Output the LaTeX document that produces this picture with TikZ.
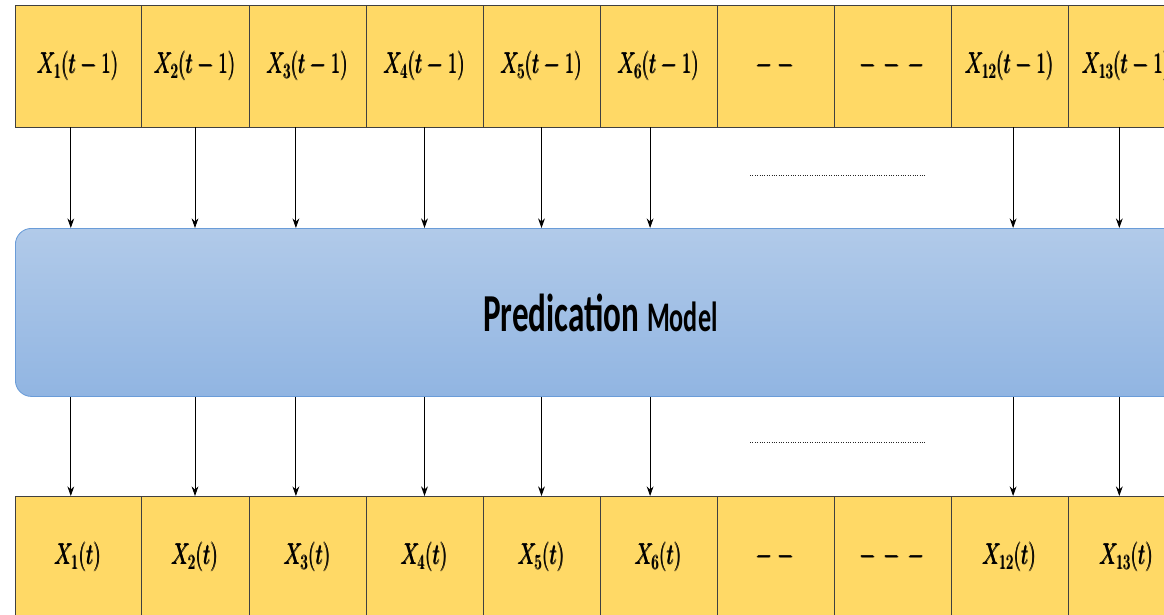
\documentclass[tikz,border=0pt]{standalone}
\usepackage{amsmath}
\usepackage{fontspec}
\usepackage{graphicx}
\usetikzlibrary{positioning,arrows.meta}
\newfontfamily\modelfont{Carlito}
\definecolor{cellgold}{HTML}{FFD966}
\definecolor{modeltop}{HTML}{B1CAE9}
\definecolor{modelbot}{HTML}{91B5E2}
\definecolor{modeledge}{HTML}{6A9CD8}
\newcommand{\sqz}[1]{\scalebox{0.62}[1]{#1}}
\newcommand{\cellmath}[1]{\scalebox{0.71}[1]{$\pmb{#1}$}}
\begin{document}
\begin{tikzpicture}[node distance=0pt]
    \tikzstyle{cell} = [rectangle, minimum width=2.925cm, minimum height=3.05cm,
        inner sep=0pt, outer sep=0pt, text centered, draw=black!75, fill=cellgold,
        font=\fontsize{20.74}{24}\selectfont]
    \tikzstyle{model} = [rectangle, rounded corners=0.4cm, minimum width=29.25cm,
        minimum height=4.2cm, draw=modeledge, semithick,
        top color=modeltop, bottom color=modelbot]
    \tikzstyle{arrow} = [semithick,->,>={Stealth[length=2.4mm,width=1.7mm]}]
    \tikzstyle{gap} = [densely dotted, black!85, line width=0.7pt]

    \clip (0,0) rectangle (29.1,-15.35);

    % Entrees a l'instant t-1
    \node (a1) [cell, minimum width=3.15cm, anchor=north west] at (0.375,-0.125) {\cellmath{X_1(t-1)}};
    \node (a2) [cell, minimum width=2.7cm, right=of a1] {\cellmath{X_2(t-1)}};
    \node (a3) [cell, right=of a2] {\cellmath{X_3(t-1)}};
    \node (a4) [cell, right=of a3] {\cellmath{X_4(t-1)}};
    \node (a5) [cell, right=of a4] {\cellmath{X_5(t-1)}};
    \node (a6) [cell, right=of a5] {\cellmath{X_6(t-1)}};
    \node (a7) [cell, right=of a6] {\cellmath{-\;-}};
    \node (a8) [cell, right=of a7] {\cellmath{-\,-\,-}};
    \node (a9) [cell, right=of a8] {\cellmath{X_{12}(t-1)}};
    \node (a10) [cell, right=of a9] {\cellmath{X_{13}(t-1)}};

    \node (m) [model, anchor=north west] at (0.375,-5.7)
        {\modelfont\bfseries\sqz{\fontsize{38}{40}\selectfont Predication
        \fontsize{30}{32}\selectfont Model}};

    % Sorties a l'instant t
    \node (b1) [cell, minimum width=3.15cm, anchor=north west] at (0.375,-12.4) {\cellmath{X_1(t)}};
    \node (b2) [cell, minimum width=2.7cm, right=of b1] {\cellmath{X_2(t)}};
    \node (b3) [cell, right=of b2] {\cellmath{X_3(t)}};
    \node (b4) [cell, right=of b3] {\cellmath{X_4(t)}};
    \node (b5) [cell, right=of b4] {\cellmath{X_5(t)}};
    \node (b6) [cell, right=of b5] {\cellmath{X_6(t)}};
    \node (b7) [cell, right=of b6] {\cellmath{-\;-}};
    \node (b8) [cell, right=of b7] {\cellmath{-\,-\,-}};
    \node (b9) [cell, right=of b8] {\cellmath{X_{12}(t)}};
    \node (b10) [cell, right=of b9] {\cellmath{X_{13}(t)}};

    \draw [arrow] ([xshift=-0.18cm]a1.south) -- ([xshift=-0.18cm]a1.south |- m.north);
    \draw [arrow] (a2) -- (a2 |- m.north);
    \draw [arrow] ([xshift=-0.29cm]a3.south) -- ([xshift=-0.29cm]a3.south |- m.north);
    \draw [arrow] (a4) -- (a4 |- m.north);
    \draw [arrow] (a5) -- (a5 |- m.north);
    \draw [arrow] ([xshift=-0.21cm]a6.south) -- ([xshift=-0.21cm]a6.south |- m.north);
    \draw [arrow] ([xshift=0.09cm]a9.south) -- ([xshift=0.09cm]a9.south |- m.north);
    \draw [arrow] ([xshift=-0.18cm]a10.south) -- ([xshift=-0.18cm]a10.south |- m.north);

    \draw [arrow] ([xshift=-0.18cm]m.south -| b1) -- ([xshift=-0.18cm]b1.north);
    \draw [arrow] (m.south -| b2) -- (b2);
    \draw [arrow] ([xshift=-0.29cm]m.south -| b3) -- ([xshift=-0.29cm]b3.north);
    \draw [arrow] (m.south -| b4) -- (b4);
    \draw [arrow] (m.south -| b5) -- (b5);
    \draw [arrow] ([xshift=-0.21cm]m.south -| b6) -- ([xshift=-0.21cm]b6.north);
    \draw [arrow] ([xshift=0.09cm]m.south -| b9) -- ([xshift=0.09cm]b9.north);
    \draw [arrow] ([xshift=-0.18cm]m.south -| b10) -- ([xshift=-0.18cm]b10.north);

    % Pointilles entre les colonnes omises
    \draw [gap] (18.75,-4.375) -- (23.15,-4.375);
    \draw [gap] (18.75,-11.05) -- (23.15,-11.05);
\end{tikzpicture}
\end{document}
